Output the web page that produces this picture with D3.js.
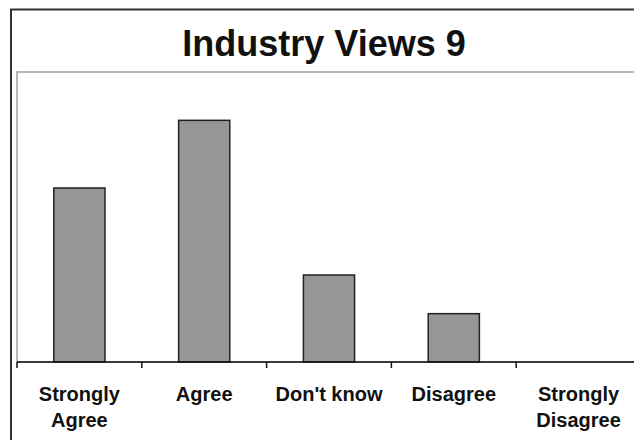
<!DOCTYPE html>
<html>
<head>
<meta charset="utf-8">
<script src="https://cdn.jsdelivr.net/npm/d3@7"></script>
<style>
  html, body { margin: 0; padding: 0; background: #fff; }
  svg { display: block; }
  text { font-family: "Liberation Sans", Arial, sans-serif; fill: #111; }
</style>
</head>
<body>
<svg id="chart" width="634" height="440"></svg>
<script>
// Survey responses per answer
const categories = ["Strongly Agree", "Agree", "Don't know", "Disagree", "Strongly Disagree"];
const responses = [36, 50, 18, 10, 0];
const yMax = 60;
const title = "Industry Views 9";

const svg = d3.select("#chart");
const W = 634, H = 440;

// chart frame (extends past the window on the right and bottom)
svg.append("rect")
  .attr("x", 11).attr("y", 9.5)
  .attr("width", 700).attr("height", 500)
  .attr("fill", "#fff")
  .attr("stroke", "#333").attr("stroke-width", 2);

const plot = { left: 17, top: 72, right: 641, bottom: 362 };

// plot area border
svg.append("rect")
  .attr("x", plot.left).attr("y", plot.top)
  .attr("width", plot.right - plot.left + 20).attr("height", plot.bottom - plot.top)
  .attr("fill", "#fff")
  .attr("stroke", "#a0a0a0").attr("stroke-width", 1.5);

const x = d3.scaleBand()
  .domain(categories)
  .range([plot.left, plot.right])
  .paddingInner(0.59).paddingOuter(0.295);

const y = d3.scaleLinear().domain([0, yMax]).range([plot.bottom, plot.top]);

svg.append("g").selectAll("rect")
  .data(categories.map((c, i) => ({ c, v: responses[i] })).filter(d => d.v > 0))
  .join("rect")
  .attr("x", d => x(d.c))
  .attr("y", d => y(d.v))
  .attr("width", x.bandwidth())
  .attr("height", d => y(0) - y(d.v))
  .attr("fill", "#969696")
  .attr("stroke", "#222").attr("stroke-width", 1.5);

// category axis with ticks between categories
const edges = d3.range(categories.length + 1).map(i => plot.left + i * (plot.right - plot.left) / categories.length);
const axis = svg.append("g");
axis.append("line")
  .attr("x1", plot.left).attr("x2", W + 10)
  .attr("y1", plot.bottom).attr("y2", plot.bottom)
  .attr("stroke", "#111").attr("stroke-width", 1.5);
axis.selectAll("line.tick")
  .data(edges)
  .join("line").attr("class", "tick")
  .attr("x1", d => d).attr("x2", d => d)
  .attr("y1", plot.bottom).attr("y2", plot.bottom + 6)
  .attr("stroke", "#111").attr("stroke-width", 1.5);

const labels = axis.selectAll("text.cat")
  .data(categories)
  .join("text").attr("class", "cat")
  .attr("x", d => x(d) + x.bandwidth() / 2)
  .attr("y", 401)
  .attr("text-anchor", "middle")
  .attr("font-size", 20)
  .attr("font-weight", "bold");
labels.each(function(d) {
  const words = d.startsWith("Strongly") ? d.split(" ") : [d];
  const t = d3.select(this);
  words.forEach((w, i) => {
    t.append("tspan")
      .attr("x", x(d) + x.bandwidth() / 2)
      .attr("dy", i === 0 ? 0 : 26)
      .text(w);
  });
});

svg.append("text")
  .attr("x", 324).attr("y", 56)
  .attr("text-anchor", "middle")
  .attr("font-size", 36)
  .attr("font-weight", "bold")
  .text(title);
</script>
</body>
</html>
